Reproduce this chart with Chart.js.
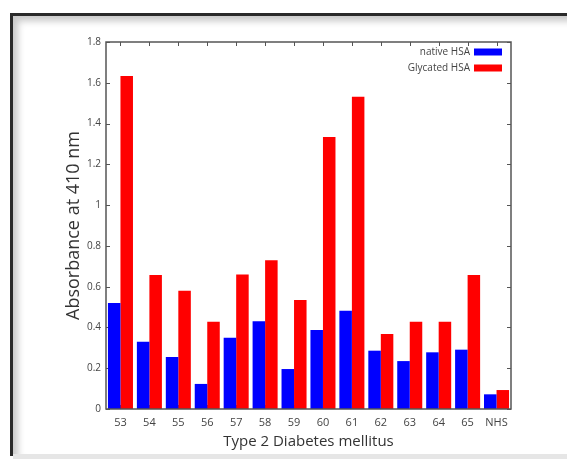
<!DOCTYPE html>
<html>
<head>
<meta charset="utf-8">
<script src="https://cdn.jsdelivr.net/npm/chart.js@4"></script>
<style>
  html, body { margin: 0; padding: 0; background: #fff; }
  body { width: 567px; height: 459px; position: relative; overflow: hidden; }
  #frame {
    position: absolute; left: 10px; top: 13px; width: 570px; height: 440px;
    border-left: 3px solid #2a2a2a; border-top: 3px solid #2a2a2a;
    box-shadow: inset 5px 5px 7px rgba(0,0,0,0.22);
  }
  #bottomBand { position: absolute; left: 13px; top: 454px; width: 560px; height: 5px; background: #e6e6e6; }
  #wrap { position: absolute; left: 0; top: 0; width: 567px; height: 459px; }
</style>
</head>
<body>
<div id="frame"></div>
<div id="bottomBand"></div>
<div id="wrap"><canvas id="absChart" width="567" height="459"></canvas></div>
<script>
// Samples (x axis)
const categories = ['53', '54', '55', '56', '57', '58', '59', '60', '61', '62', '63', '64', '65', 'NHS'];

// Absorbance at 410 nm
const nativeHSA = [0.52, 0.33, 0.255, 0.123, 0.35, 0.43, 0.196, 0.387, 0.482, 0.286, 0.235, 0.278, 0.291, 0.072];
const glycatedHSA = [1.633, 0.657, 0.58, 0.428, 0.66, 0.73, 0.535, 1.334, 1.532, 0.368, 0.428, 0.428, 0.657, 0.093];

const yTicks = [0, 0.2, 0.4, 0.6, 0.8, 1, 1.2, 1.4, 1.6, 1.8];

// Frame around the plot with little inward ticks (gnuplot look)
const framePlugin = {
    id: 'frame',
    beforeDatasetsDraw(chart) {
        const { ctx, chartArea: a, scales } = chart;
        ctx.save();
        ctx.strokeStyle = '#555';
        ctx.lineWidth = 1;
        ctx.beginPath();
        yTicks.forEach(v => {
            const y = Math.round(scales.y.getPixelForValue(v)) + 0.5;
            ctx.moveTo(a.left, y); ctx.lineTo(a.left + 4, y);
            ctx.moveTo(a.right, y); ctx.lineTo(a.right - 4, y);
        });
        categories.forEach((c, i) => {
            const x = Math.round(scales.x.getPixelForValue(i)) + 0.5;
            ctx.moveTo(x, a.top); ctx.lineTo(x, a.top + 4);
            ctx.moveTo(x, a.bottom); ctx.lineTo(x, a.bottom - 4);
        });
        ctx.stroke();
        ctx.restore();
    },
    afterDraw(chart) {
        const { ctx, chartArea: a } = chart;
        ctx.save();
        ctx.strokeStyle = '#555';
        ctx.lineWidth = 1.5;
        ctx.strokeRect(a.left, a.top, a.right - a.left, a.bottom - a.top);

        // legend: text on the left, colour box on the right
        ctx.font = '10px "Open Sans"';
        ctx.textAlign = 'right';
        ctx.textBaseline = 'middle';
        chart.data.datasets.forEach((ds, i) => {
            const yc = a.top + 10 + i * 16;
            const boxRight = a.right - 9;
            ctx.fillStyle = ds.backgroundColor;
            ctx.fillRect(boxRight - 28, yc - 3.5, 28, 7);
            ctx.fillStyle = '#444';
            ctx.fillText(ds.label, boxRight - 32, yc);
        });
        ctx.restore();
    }
};

const ctx = document.getElementById('absChart').getContext('2d');

new Chart(ctx, {
    type: 'bar',
    data: {
        labels: categories,
        datasets: [
            { label: 'native HSA', data: nativeHSA, backgroundColor: '#0000ff' },
            { label: 'Glycated HSA', data: glycatedHSA, backgroundColor: '#ff0000' }
        ]
    },
    options: {
        responsive: false,
        animation: false,
        devicePixelRatio: 1,
        layout: { padding: { left: 0, top: 42, right: 56, bottom: 0 } },
        datasets: { bar: { categoryPercentage: 0.865, barPercentage: 1.0 } },
        plugins: { legend: { display: false }, tooltip: { enabled: false } },
        scales: {
            x: {
                grid: { display: false, drawTicks: false },
                border: { display: false },
                ticks: { color: '#444', font: { family: 'Open Sans', size: 11 }, padding: 7, maxRotation: 0, autoSkip: false },
                title: {
                    display: true, text: 'Type 2 Diabetes mellitus', color: '#333',
                    font: { family: 'Open Sans', size: 15 }, padding: { top: 0, bottom: 8 }
                },
                afterFit(scale) { scale.height = 50; }
            },
            y: {
                min: 0, max: 1.8,
                grid: { display: false, drawTicks: false },
                border: { display: false },
                afterBuildTicks(scale) { scale.ticks = yTicks.map(v => ({ value: v })); },
                ticks: {
                    color: '#444', font: { family: 'Open Sans', size: 10 }, padding: 5,
                    callback: v => String(Math.round(v * 10) / 10)
                },
                title: {
                    display: true, text: 'Absorbance at 410 nm', color: '#333',
                    font: { family: 'Open Sans', size: 18 }, padding: { top: 63, bottom: 0 }
                },
                afterFit(scale) { scale.width = 106; }
            }
        }
    },
    plugins: [framePlugin]
});
</script>
</body>
</html>
